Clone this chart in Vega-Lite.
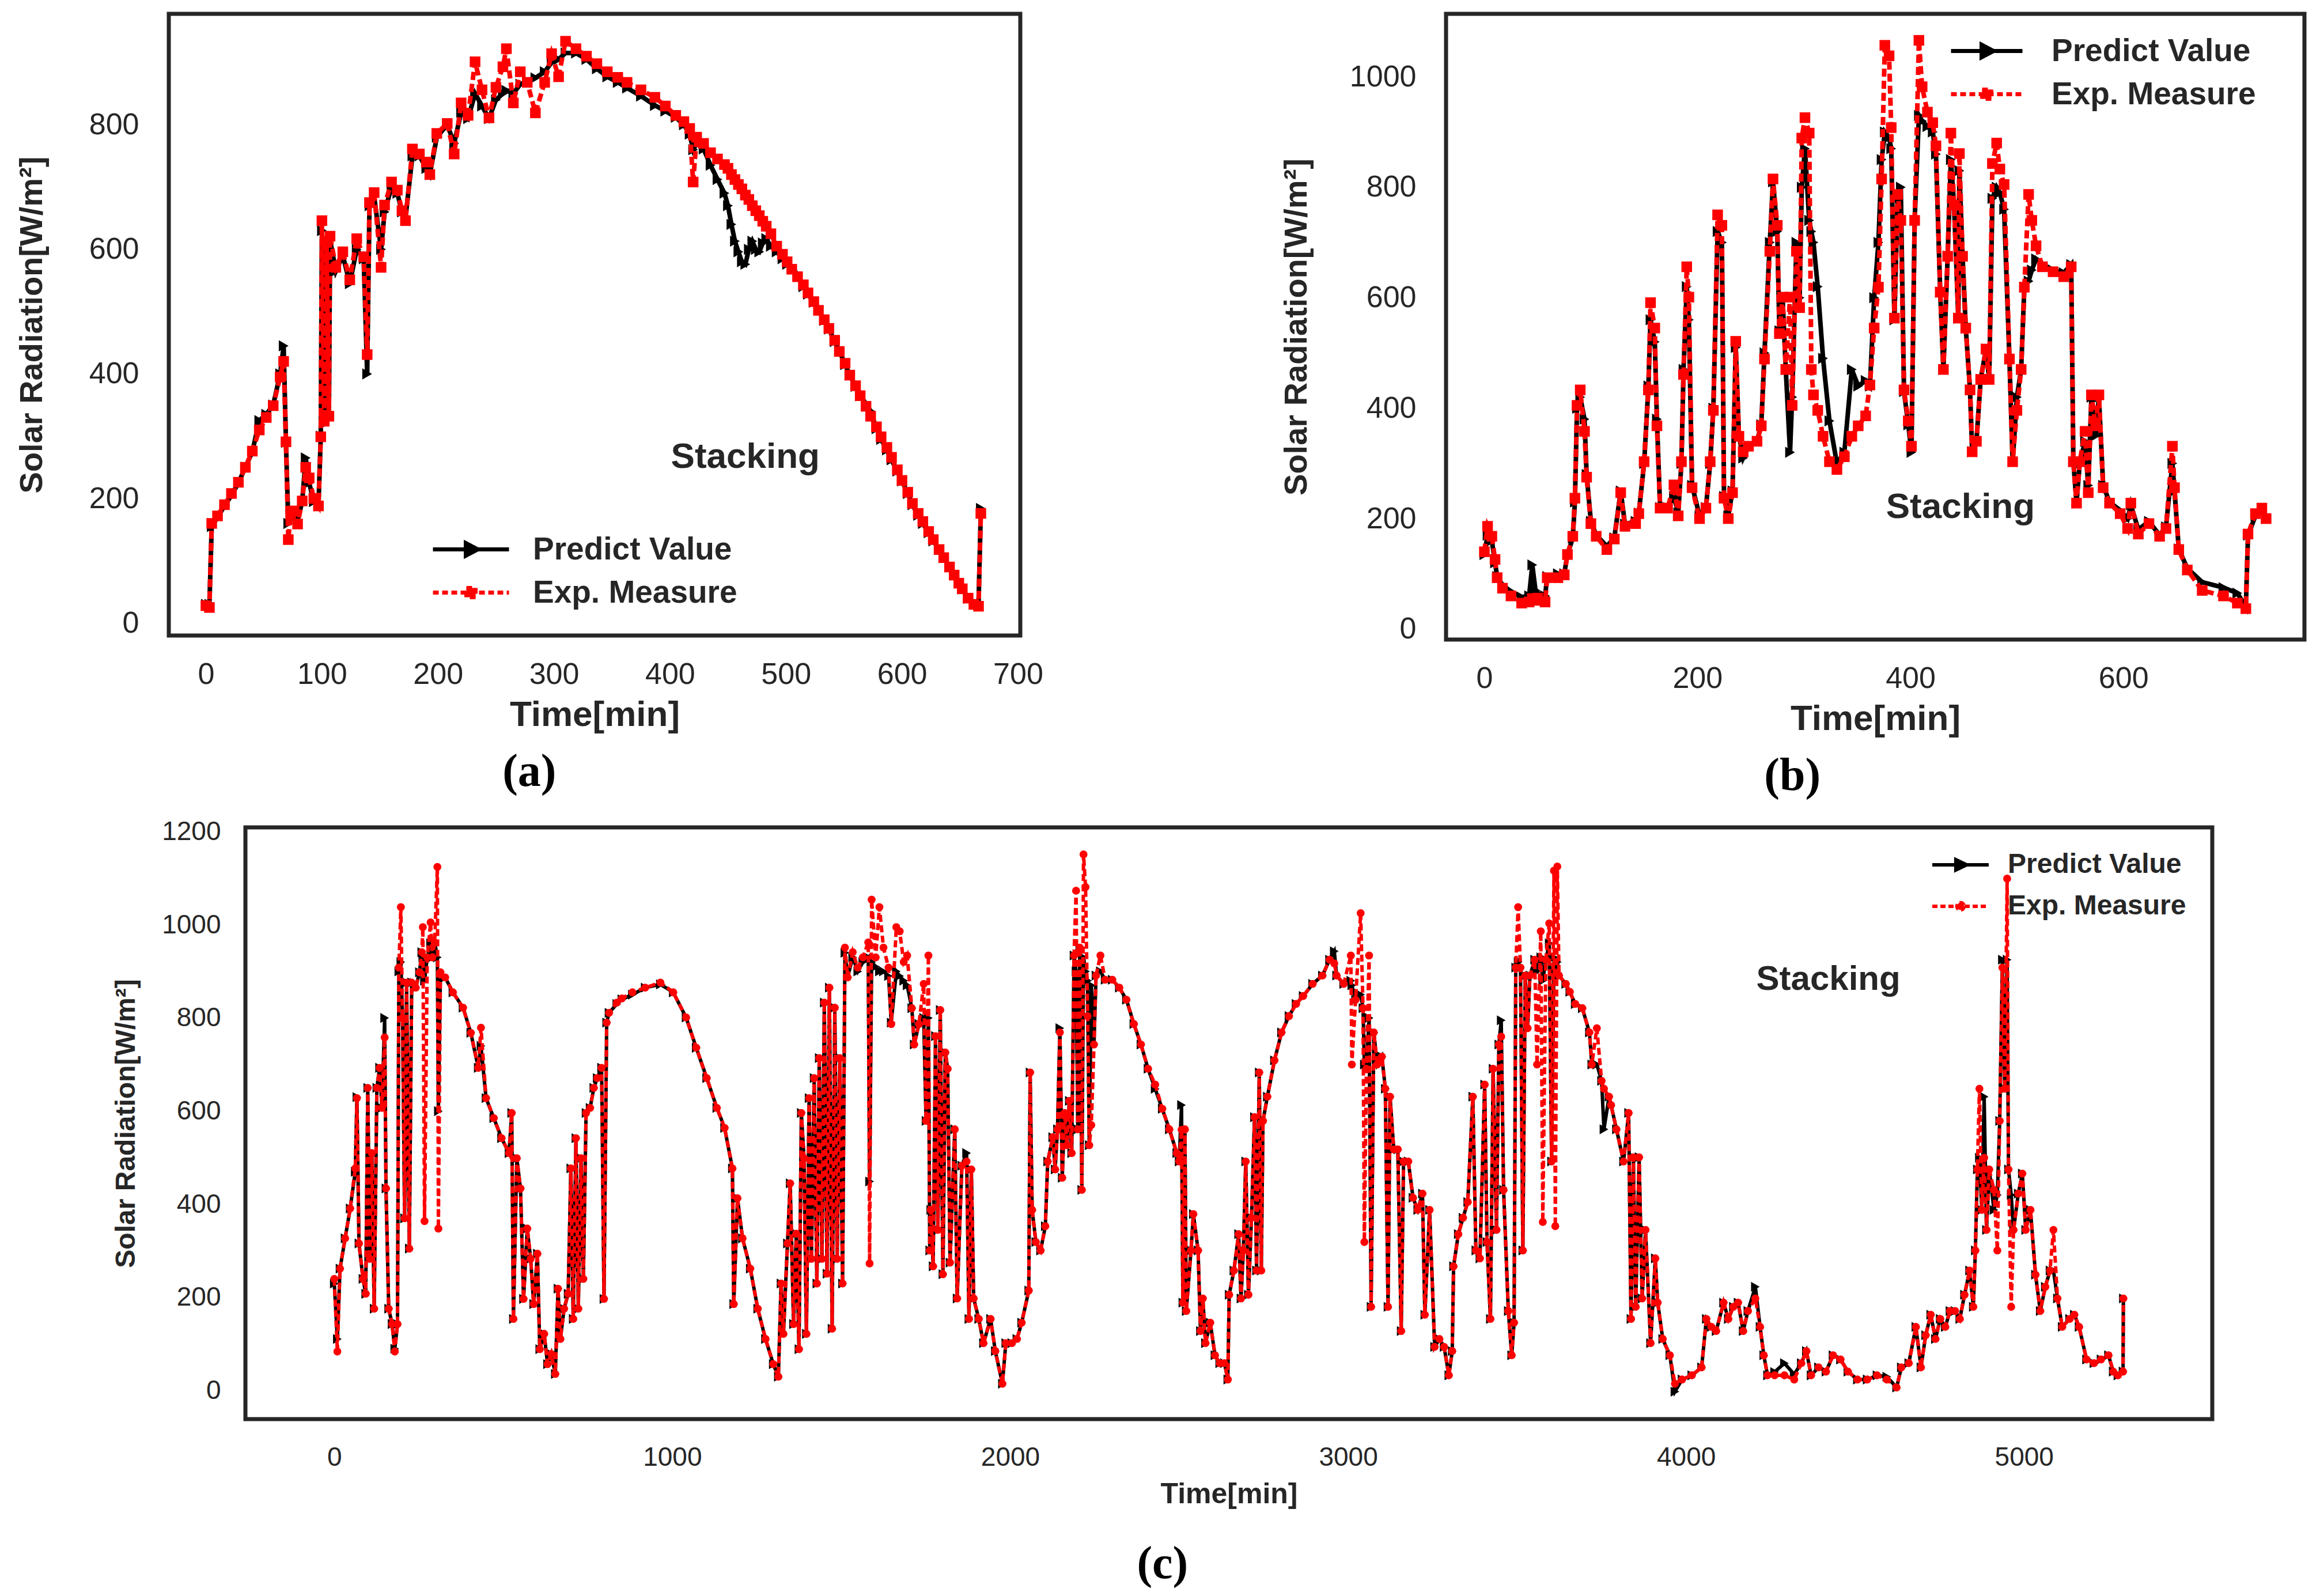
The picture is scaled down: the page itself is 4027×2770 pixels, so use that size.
{
  "$schema": "https://vega.github.io/schema/vega-lite/v6.json",
  "background": "white",
  "padding": {"left": 23, "top": 20, "right": 10, "bottom": 10},
  "config": {
    "view": {"stroke": "#262626", "strokeWidth": 7},
    "axis": {
      "grid": false, "ticks": false, "tickSize": 0, "domain": false, "labelFlush": false, "format": "d",
      "labelFont": "Liberation Sans", "titleFont": "Liberation Sans",
      "labelColor": "#262626", "titleColor": "#262626", "titleFontWeight": "bold"
    },
    "title": {"font": "Liberation Serif", "fontWeight": "bold", "color": "black"}
  },
  "datasets": {
    "a": [
      {"t":0,"p":30,"m":28},{"t":3,"p":30,"m":25},{"t":5,"p":155,"m":160},{"t":10,"p":170,"m":172},{"t":16,"p":188,"m":190},
      {"t":22,"p":205,"m":208},{"t":28,"p":225,"m":226},{"t":34,"p":250,"m":250},{"t":40,"p":275,"m":276},{"t":46,"p":325,"m":310},
      {"t":52,"p":335,"m":330},{"t":58,"p":350,"m":349},{"t":64,"p":400,"m":395},{"t":67,"p":445,"m":420},{"t":69,"p":290,"m":291},
      {"t":71,"p":160,"m":134},{"t":73,"p":176,"m":176},{"t":76,"p":170,"m":180},{"t":79,"p":165,"m":159},{"t":83,"p":195,"m":196},
      {"t":86,"p":265,"m":250},{"t":89,"p":225,"m":233},{"t":93,"p":195,"m":200},{"t":97,"p":188,"m":188},{"t":99,"p":300,"m":299},
      {"t":100,"p":630,"m":646},{"t":102,"p":320,"m":324},{"t":104,"p":610,"m":613},{"t":106,"p":330,"m":332},{"t":107,"p":615,"m":621},
      {"t":112,"p":565,"m":571},{"t":118,"p":590,"m":596},{"t":124,"p":545,"m":551},{"t":130,"p":600,"m":617},{"t":136,"p":585,"m":588},
      {"t":139,"p":400,"m":431},{"t":141,"p":670,"m":675},{"t":145,"p":685,"m":691},{"t":151,"p":600,"m":571},{"t":154,"p":660,"m":671},
      {"t":160,"p":700,"m":708},{"t":165,"p":690,"m":695},{"t":169,"p":660,"m":662},{"t":172,"p":650,"m":646},{"t":178,"p":750,"m":761},
      {"t":184,"p":750,"m":753},{"t":190,"p":730,"m":740},{"t":193,"p":720,"m":720},{"t":199,"p":780,"m":786},{"t":208,"p":800,"m":802},
      {"t":214,"p":770,"m":753},{"t":220,"p":820,"m":835},{"t":226,"p":810,"m":815},{"t":232,"p":850,"m":901},{"t":238,"p":830,"m":856},
      {"t":244,"p":810,"m":811},{"t":250,"p":840,"m":860},{"t":256,"p":850,"m":893},{"t":259,"p":855,"m":922},{"t":265,"p":850,"m":835},
      {"t":271,"p":865,"m":885},{"t":277,"p":870,"m":868},{"t":284,"p":875,"m":819},{"t":292,"p":885,"m":868},{"t":298,"p":900,"m":914},
      {"t":304,"p":905,"m":877},{"t":310,"p":915,"m":934},{"t":319,"p":915,"m":922},{"t":328,"p":905,"m":910},{"t":337,"p":890,"m":898},
      {"t":346,"p":877,"m":885},{"t":355,"p":868,"m":876},{"t":363,"p":859,"m":868},{"t":375,"p":846,"m":856},{"t":387,"p":831,"m":844},
      {"t":396,"p":822,"m":830},{"t":405,"p":812,"m":815},{"t":412,"p":800,"m":805},{"t":417,"p":785,"m":794},{"t":420,"p":760,"m":708},
      {"t":423,"p":770,"m":780},{"t":429,"p":761,"m":770},{"t":435,"p":735,"m":755},{"t":441,"p":712,"m":745},{"t":447,"p":690,"m":736},
      {"t":450,"p":670,"m":730},{"t":453,"p":640,"m":720},{"t":456,"p":613,"m":712},{"t":459,"p":596,"m":704},{"t":462,"p":580,"m":697},
      {"t":465,"p":576,"m":687},{"t":468,"p":600,"m":680},{"t":471,"p":613,"m":670},{"t":474,"p":600,"m":662},{"t":477,"p":596,"m":654},
      {"t":480,"p":610,"m":645},{"t":483,"p":617,"m":637},{"t":487,"p":605,"m":625},{"t":492,"p":596,"m":605},{"t":497,"p":585,"m":592},
      {"t":501,"p":576,"m":580},{"t":505,"p":570,"m":568},{"t":510,"p":560,"m":556},{"t":515,"p":540,"m":543},{"t":519,"p":528,"m":530},
      {"t":524,"p":515,"m":516},{"t":528,"p":503,"m":502},{"t":533,"p":486,"m":487},{"t":537,"p":472,"m":473},{"t":542,"p":452,"m":454},
      {"t":546,"p":437,"m":436},{"t":551,"p":415,"m":417},{"t":555,"p":398,"m":398},{"t":560,"p":380,"m":381},{"t":564,"p":365,"m":365},
      {"t":569,"p":352,"m":348},{"t":573,"p":340,"m":332},{"t":578,"p":312,"m":315},{"t":582,"p":295,"m":299},{"t":587,"p":278,"m":282},
      {"t":591,"p":262,"m":266},{"t":596,"p":244,"m":246},{"t":600,"p":228,"m":229},{"t":605,"p":208,"m":210},{"t":609,"p":190,"m":192},
      {"t":614,"p":173,"m":176},{"t":618,"p":160,"m":163},{"t":623,"p":145,"m":147},{"t":627,"p":132,"m":134},{"t":632,"p":118,"m":118},
      {"t":636,"p":105,"m":105},{"t":641,"p":90,"m":90},{"t":645,"p":78,"m":77},{"t":649,"p":65,"m":64},{"t":652,"p":55,"m":55},
      {"t":657,"p":40,"m":40},{"t":662,"p":32,"m":30},{"t":666,"p":30,"m":27},{"t":668,"p":184,"m":176}
    ],
    "b": [
      {"t":0,"p":135,"m":140},{"t":3,"p":170,"m":186},{"t":7,"p":160,"m":168},{"t":10,"p":120,"m":126},{"t":12,"p":95,"m":93},
      {"t":17,"p":80,"m":74},{"t":25,"p":68,"m":60},{"t":35,"p":58,"m":47},{"t":42,"p":60,"m":49},{"t":45,"p":116,"m":55},
      {"t":48,"p":70,"m":52},{"t":50,"p":65,"m":56},{"t":57,"p":60,"m":49},{"t":59,"p":95,"m":93},{"t":69,"p":100,"m":93},
      {"t":75,"p":100,"m":98},{"t":78,"p":135,"m":135},{"t":83,"p":165,"m":168},{"t":85,"p":230,"m":237},{"t":87,"p":400,"m":405},
      {"t":90,"p":420,"m":433},{"t":94,"p":380,"m":358},{"t":96,"p":280,"m":275},{"t":100,"p":195,"m":191},{"t":105,"p":170,"m":168},
      {"t":115,"p":150,"m":144},{"t":122,"p":165,"m":163},{"t":128,"p":250,"m":247},{"t":132,"p":190,"m":186},{"t":142,"p":195,"m":191},
      {"t":145,"p":210,"m":209},{"t":150,"p":300,"m":303},{"t":154,"p":440,"m":433},{"t":156,"p":560,"m":591},{"t":160,"p":520,"m":545},
      {"t":162,"p":380,"m":368},{"t":165,"p":220,"m":219},{"t":172,"p":220,"m":219},{"t":178,"p":240,"m":261},{"t":182,"p":210,"m":205},
      {"t":185,"p":300,"m":303},{"t":187,"p":470,"m":461},{"t":190,"p":620,"m":656},{"t":192,"p":560,"m":601},{"t":195,"p":260,"m":256},
      {"t":202,"p":205,"m":200},{"t":208,"p":220,"m":219},{"t":212,"p":300,"m":303},{"t":215,"p":400,"m":396},{"t":219,"p":720,"m":750},
      {"t":223,"p":700,"m":731},{"t":225,"p":240,"m":237},{"t":229,"p":205,"m":200},{"t":233,"p":250,"m":247},{"t":236,"p":510,"m":521},
      {"t":239,"p":350,"m":349},{"t":243,"p":310,"m":321},{"t":248,"p":330,"m":331},{"t":256,"p":340,"m":340},{"t":260,"p":370,"m":368},
      {"t":263,"p":500,"m":489},{"t":268,"p":700,"m":684},{"t":271,"p":810,"m":815},{"t":275,"p":720,"m":731},{"t":277,"p":540,"m":535},
      {"t":280,"p":600,"m":601},{"t":283,"p":470,"m":470},{"t":287,"p":320,"m":601},{"t":289,"p":420,"m":405},{"t":293,"p":700,"m":684},
      {"t":296,"p":600,"m":582},{"t":298,"p":800,"m":889},{"t":301,"p":870,"m":926},{"t":305,"p":740,"m":898},{"t":307,"p":720,"m":470},
      {"t":309,"p":700,"m":424},{"t":313,"p":620,"m":396},{"t":318,"p":490,"m":349},{"t":324,"p":377,"m":303},{"t":331,"p":300,"m":289},
      {"t":338,"p":320,"m":312},{"t":345,"p":470,"m":349},{"t":351,"p":440,"m":368},{"t":358,"p":450,"m":386},{"t":362,"p":440,"m":442},
      {"t":366,"p":600,"m":545},{"t":370,"p":700,"m":619},{"t":373,"p":850,"m":815},{"t":376,"p":900,"m":1057},{"t":380,"p":890,"m":1038},
      {"t":382,"p":870,"m":908},{"t":385,"p":560,"m":563},{"t":388,"p":780,"m":787},{"t":391,"p":800,"m":740},{"t":394,"p":430,"m":433},
      {"t":398,"p":370,"m":377},{"t":401,"p":320,"m":331},{"t":404,"p":740,"m":740},{"t":408,"p":930,"m":1066},{"t":411,"p":920,"m":982},
      {"t":416,"p":910,"m":936},{"t":421,"p":900,"m":917},{"t":424,"p":860,"m":875},{"t":428,"p":610,"m":610},{"t":431,"p":470,"m":470},
      {"t":435,"p":675,"m":675},{"t":438,"p":850,"m":898},{"t":441,"p":768,"m":768},{"t":445,"p":563,"m":563},{"t":446,"p":830,"m":861},
      {"t":449,"p":675,"m":675},{"t":452,"p":545,"m":545},{"t":456,"p":433,"m":433},{"t":458,"p":321,"m":321},{"t":462,"p":340,"m":340},
      {"t":466,"p":452,"m":452},{"t":471,"p":507,"m":507},{"t":474,"p":452,"m":452},{"t":477,"p":780,"m":843},{"t":481,"p":800,"m":880},
      {"t":484,"p":790,"m":833},{"t":488,"p":760,"m":805},{"t":493,"p":489,"m":489},{"t":496,"p":303,"m":303},{"t":500,"p":420,"m":396},
      {"t":504,"p":470,"m":470},{"t":507,"p":619,"m":619},{"t":511,"p":630,"m":787},{"t":514,"p":650,"m":740},{"t":518,"p":670,"m":694},
      {"t":524,"p":660,"m":656},{"t":534,"p":650,"m":647},{"t":544,"p":645,"m":638},{"t":551,"p":660,"m":656},{"t":553,"p":303,"m":303},
      {"t":556,"p":228,"m":228},{"t":559,"p":300,"m":303},{"t":564,"p":340,"m":358},{"t":567,"p":260,"m":247},{"t":570,"p":420,"m":424},
      {"t":574,"p":350,"m":368},{"t":577,"p":420,"m":424},{"t":581,"p":260,"m":256},{"t":587,"p":230,"m":228},{"t":597,"p":215,"m":209},
      {"t":604,"p":200,"m":182},{"t":607,"p":225,"m":228},{"t":614,"p":180,"m":172},{"t":624,"p":195,"m":191},{"t":634,"p":170,"m":168},
      {"t":640,"p":185,"m":182},{"t":646,"p":300,"m":331},{"t":648,"p":250,"m":256},{"t":652,"p":145,"m":144},{"t":660,"p":110,"m":107},
      {"t":674,"p":85,"m":70},{"t":694,"p":75,"m":60},{"t":707,"p":65,"m":47},{"t":715,"p":40,"m":37},{"t":717,"p":170,"m":172},
      {"t":724,"p":205,"m":209},{"t":730,"p":215,"m":219},{"t":734,"p":200,"m":200}
    ],
    "c": [
      {"t":0,"p":230,"m":240},{"t":9,"p":111,"m":84},{"t":17,"p":262,"m":262},{"t":32,"p":327,"m":327},{"t":47,"p":391,"m":391},
      {"t":62,"p":470,"m":477},{"t":67,"p":630,"m":628},{"t":73,"p":316,"m":316},{"t":85,"p":240,"m":240},{"t":93,"p":208,"m":208},
      {"t":99,"p":650,"m":650},{"t":105,"p":283,"m":283},{"t":111,"p":510,"m":510},{"t":118,"p":176,"m":176},{"t":126,"p":650,"m":650},
      {"t":134,"p":693,"m":693},{"t":141,"p":607,"m":607},{"t":149,"p":800,"m":758},{"t":153,"p":434,"m":434},{"t":161,"p":176,"m":176},
      {"t":171,"p":143,"m":143},{"t":179,"p":90,"m":84},{"t":187,"p":143,"m":143},{"t":191,"p":900,"m":908},{"t":197,"p":920,"m":1038},
      {"t":202,"p":800,"m":800},{"t":208,"p":370,"m":370},{"t":214,"p":876,"m":876},{"t":222,"p":305,"m":305},{"t":229,"p":876,"m":876},
      {"t":241,"p":865,"m":865},{"t":252,"p":898,"m":898},{"t":259,"p":941,"m":941},{"t":262,"p":930,"m":995},{"t":267,"p":880,"m":364},
      {"t":275,"p":930,"m":930},{"t":285,"p":960,"m":1005},{"t":290,"p":930,"m":930},{"t":297,"p":962,"m":962},{"t":305,"p":930,"m":1124},
      {"t":308,"p":600,"m":348},{"t":314,"p":898,"m":898},{"t":328,"p":887,"m":887},{"t":351,"p":855,"m":855},{"t":381,"p":822,"m":822},
      {"t":404,"p":768,"m":768},{"t":426,"p":693,"m":693},{"t":434,"p":740,"m":779},{"t":449,"p":628,"m":628},{"t":472,"p":585,"m":585},
      {"t":495,"p":542,"m":542},{"t":517,"p":510,"m":510},{"t":525,"p":596,"m":596},{"t":530,"p":154,"m":154},{"t":540,"p":499,"m":499},
      {"t":551,"p":434,"m":434},{"t":560,"p":197,"m":197},{"t":571,"p":348,"m":348},{"t":581,"p":283,"m":283},{"t":590,"p":186,"m":186},
      {"t":601,"p":294,"m":294},{"t":608,"p":89,"m":89},{"t":621,"p":122,"m":122},{"t":631,"p":57,"m":57},{"t":642,"p":79,"m":79},
      {"t":654,"p":36,"m":36},{"t":662,"p":219,"m":219},{"t":669,"p":111,"m":111},{"t":680,"p":176,"m":176},{"t":692,"p":208,"m":208},
      {"t":700,"p":477,"m":477},{"t":707,"p":154,"m":154},{"t":715,"p":542,"m":542},{"t":722,"p":176,"m":176},{"t":730,"p":499,"m":499},
      {"t":737,"p":240,"m":240},{"t":745,"p":596,"m":596},{"t":757,"p":607,"m":607},{"t":768,"p":650,"m":650},{"t":778,"p":671,"m":671},
      {"t":791,"p":693,"m":693},{"t":798,"p":197,"m":197},{"t":806,"p":790,"m":790},{"t":813,"p":811,"m":811},{"t":836,"p":830,"m":833},
      {"t":851,"p":840,"m":842},{"t":882,"p":850,"m":855},{"t":920,"p":865,"m":865},{"t":965,"p":872,"m":876},{"t":1003,"p":855,"m":855},
      {"t":1041,"p":801,"m":801},{"t":1071,"p":736,"m":736},{"t":1102,"p":671,"m":671},{"t":1132,"p":607,"m":607},{"t":1155,"p":564,"m":564},
      {"t":1178,"p":477,"m":477},{"t":1182,"p":186,"m":186},{"t":1193,"p":413,"m":413},{"t":1208,"p":327,"m":327},{"t":1231,"p":262,"m":262},
      {"t":1253,"p":176,"m":176},{"t":1276,"p":111,"m":111},{"t":1299,"p":57,"m":57},{"t":1314,"p":30,"m":30},{"t":1322,"p":230,"m":230},
      {"t":1329,"p":122,"m":122},{"t":1341,"p":316,"m":316},{"t":1349,"p":445,"m":445},{"t":1359,"p":143,"m":143},{"t":1367,"p":337,"m":337},
      {"t":1375,"p":89,"m":89},{"t":1382,"p":596,"m":596},{"t":1390,"p":499,"m":499},{"t":1397,"p":122,"m":122},{"t":1405,"p":628,"m":628},
      {"t":1412,"p":283,"m":283},{"t":1420,"p":671,"m":671},{"t":1428,"p":230,"m":230},{"t":1435,"p":714,"m":714},{"t":1443,"p":283,"m":283},
      {"t":1450,"p":833,"m":833},{"t":1458,"p":251,"m":251},{"t":1465,"p":865,"m":865},{"t":1473,"p":133,"m":133},{"t":1481,"p":822,"m":822},
      {"t":1488,"p":283,"m":283},{"t":1496,"p":714,"m":714},{"t":1504,"p":230,"m":230},{"t":1511,"p":940,"m":951},{"t":1519,"p":887,"m":887},
      {"t":1534,"p":930,"m":941},{"t":1549,"p":900,"m":908},{"t":1564,"p":920,"m":930},{"t":1580,"p":930,"m":962},{"t":1584,"p":449,"m":273},
      {"t":1590,"p":920,"m":1054},{"t":1602,"p":910,"m":930},{"t":1613,"p":900,"m":1038},{"t":1625,"p":900,"m":951},{"t":1640,"p":890,"m":908},
      {"t":1648,"p":790,"m":787},{"t":1663,"p":900,"m":995},{"t":1673,"p":890,"m":986},{"t":1685,"p":880,"m":920},{"t":1695,"p":870,"m":934},
      {"t":1709,"p":821,"m":821},{"t":1716,"p":743,"m":743},{"t":1730,"p":787,"m":787},{"t":1744,"p":800,"m":873},{"t":1751,"p":579,"m":579},
      {"t":1758,"p":800,"m":934},{"t":1762,"p":301,"m":301},{"t":1765,"p":388,"m":388},{"t":1772,"p":267,"m":267},{"t":1779,"p":761,"m":761},
      {"t":1786,"p":345,"m":345},{"t":1793,"p":817,"m":817},{"t":1801,"p":250,"m":250},{"t":1808,"p":726,"m":726},{"t":1815,"p":691,"m":691},
      {"t":1822,"p":275,"m":275},{"t":1836,"p":561,"m":561},{"t":1843,"p":198,"m":198},{"t":1857,"p":483,"m":483},{"t":1871,"p":510,"m":492},
      {"t":1878,"p":154,"m":154},{"t":1885,"p":475,"m":475},{"t":1892,"p":198,"m":198},{"t":1907,"p":154,"m":154},{"t":1921,"p":102,"m":102},
      {"t":1942,"p":154,"m":154},{"t":1956,"p":85,"m":85},{"t":1977,"p":15,"m":15},{"t":1987,"p":102,"m":102},{"t":2005,"p":102,"m":102},
      {"t":2020,"p":111,"m":111},{"t":2034,"p":146,"m":146},{"t":2055,"p":215,"m":215},{"t":2059,"p":683,"m":683},{"t":2065,"p":388,"m":388},
      {"t":2076,"p":319,"m":319},{"t":2090,"p":301,"m":301},{"t":2104,"p":353,"m":353},{"t":2111,"p":492,"m":492},{"t":2126,"p":544,"m":544},
      {"t":2133,"p":475,"m":475},{"t":2140,"p":561,"m":561},{"t":2147,"p":778,"m":769},{"t":2154,"p":457,"m":457},{"t":2161,"p":596,"m":596},
      {"t":2168,"p":527,"m":527},{"t":2175,"p":622,"m":622},{"t":2182,"p":510,"m":510},{"t":2189,"p":934,"m":934},{"t":2195,"p":900,"m":1073},
      {"t":2200,"p":561,"m":561},{"t":2206,"p":951,"m":951},{"t":2212,"p":431,"m":431},{"t":2217,"p":930,"m":1151},{"t":2223,"p":900,"m":1081},
      {"t":2229,"p":880,"m":804},{"t":2234,"p":527,"m":527},{"t":2240,"p":870,"m":570},{"t":2248,"p":743,"m":743},{"t":2254,"p":891,"m":891},
      {"t":2267,"p":900,"m":934},{"t":2281,"p":882,"m":882},{"t":2302,"p":882,"m":882},{"t":2323,"p":865,"m":865},{"t":2344,"p":839,"m":839},
      {"t":2366,"p":787,"m":787},{"t":2387,"p":743,"m":743},{"t":2408,"p":691,"m":691},{"t":2429,"p":648,"m":657},{"t":2450,"p":605,"m":605},
      {"t":2471,"p":561,"m":561},{"t":2493,"p":510,"m":510},{"t":2500,"p":492,"m":492},{"t":2507,"p":613,"m":560},{"t":2511,"p":189,"m":189},
      {"t":2517,"p":561,"m":561},{"t":2521,"p":171,"m":171},{"t":2535,"p":301,"m":301},{"t":2542,"p":379,"m":379},{"t":2556,"p":301,"m":301},
      {"t":2563,"p":128,"m":128},{"t":2570,"p":198,"m":198},{"t":2578,"p":102,"m":102},{"t":2592,"p":146,"m":146},{"t":2606,"p":76,"m":76},
      {"t":2620,"p":59,"m":59},{"t":2634,"p":59,"m":59},{"t":2644,"p":24,"m":24},{"t":2648,"p":206,"m":206},{"t":2662,"p":258,"m":258},
      {"t":2676,"p":336,"m":336},{"t":2683,"p":198,"m":198},{"t":2690,"p":301,"m":301},{"t":2697,"p":492,"m":492},{"t":2705,"p":206,"m":206},
      {"t":2714,"p":371,"m":371},{"t":2723,"p":587,"m":587},{"t":2729,"p":258,"m":258},{"t":2737,"p":683,"m":683},{"t":2743,"p":258,"m":258},
      {"t":2748,"p":579,"m":579},{"t":2761,"p":631,"m":631},{"t":2782,"p":709,"m":709},{"t":2803,"p":769,"m":769},{"t":2825,"p":804,"m":804},
      {"t":2846,"p":830,"m":830},{"t":2867,"p":847,"m":847},{"t":2895,"p":873,"m":873},{"t":2924,"p":891,"m":891},{"t":2945,"p":925,"m":925},
      {"t":2959,"p":943,"m":917},{"t":2966,"p":891,"m":891},{"t":2987,"p":873,"m":873},{"t":3008,"p":880,"m":934},{"t":3011,"p":870,"m":700},
      {"t":3022,"p":839,"m":839},{"t":3037,"p":850,"m":1025},{"t":3044,"p":821,"m":821},{"t":3048,"p":700,"m":319},{"t":3054,"p":691,"m":691},
      {"t":3062,"p":800,"m":934},{"t":3068,"p":180,"m":180},{"t":3076,"p":769,"m":769},{"t":3086,"p":700,"m":700},{"t":3100,"p":717,"m":717},
      {"t":3110,"p":648,"m":648},{"t":3118,"p":180,"m":180},{"t":3124,"p":631,"m":631},{"t":3135,"p":518,"m":518},{"t":3147,"p":518,"m":518},
      {"t":3157,"p":128,"m":128},{"t":3164,"p":492,"m":492},{"t":3178,"p":492,"m":492},{"t":3192,"p":414,"m":414},{"t":3206,"p":388,"m":388},
      {"t":3220,"p":423,"m":423},{"t":3227,"p":163,"m":163},{"t":3241,"p":388,"m":388},{"t":3256,"p":94,"m":94},{"t":3270,"p":111,"m":111},
      {"t":3284,"p":94,"m":94},{"t":3298,"p":33,"m":33},{"t":3308,"p":85,"m":85},{"t":3312,"p":267,"m":267},{"t":3326,"p":336,"m":336},
      {"t":3340,"p":371,"m":371},{"t":3354,"p":405,"m":405},{"t":3369,"p":631,"m":631},{"t":3378,"p":301,"m":301},{"t":3390,"p":284,"m":284},
      {"t":3404,"p":657,"m":657},{"t":3411,"p":319,"m":319},{"t":3421,"p":154,"m":154},{"t":3429,"p":691,"m":691},{"t":3439,"p":345,"m":345},
      {"t":3446,"p":743,"m":743},{"t":3453,"p":795,"m":760},{"t":3460,"p":431,"m":431},{"t":3474,"p":171,"m":171},{"t":3484,"p":76,"m":76},
      {"t":3491,"p":146,"m":146},{"t":3496,"p":908,"m":908},{"t":3503,"p":920,"m":1038},{"t":3510,"p":908,"m":908},{"t":3517,"p":301,"m":301},
      {"t":3524,"p":891,"m":891},{"t":3531,"p":778,"m":778},{"t":3538,"p":891,"m":891},{"t":3552,"p":925,"m":925},{"t":3559,"p":900,"m":700},
      {"t":3570,"p":930,"m":986},{"t":3576,"p":880,"m":362},{"t":3585,"p":925,"m":925},{"t":3595,"p":960,"m":1003},{"t":3602,"p":492,"m":492},
      {"t":3609,"p":930,"m":1116},{"t":3613,"p":900,"m":353},{"t":3619,"p":920,"m":1125},{"t":3624,"p":891,"m":891},{"t":3644,"p":873,"m":873},
      {"t":3656,"p":856,"m":856},{"t":3672,"p":830,"m":830},{"t":3693,"p":821,"m":821},{"t":3714,"p":769,"m":769},{"t":3721,"p":700,"m":700},
      {"t":3736,"p":700,"m":778},{"t":3750,"p":665,"m":665},{"t":3757,"p":561,"m":648},{"t":3772,"p":631,"m":631},{"t":3778,"p":613,"m":613},
      {"t":3794,"p":561,"m":561},{"t":3815,"p":492,"m":492},{"t":3830,"p":596,"m":596},{"t":3837,"p":154,"m":154},{"t":3844,"p":501,"m":501},
      {"t":3851,"p":180,"m":180},{"t":3861,"p":501,"m":501},{"t":3870,"p":198,"m":198},{"t":3880,"p":345,"m":345},{"t":3895,"p":102,"m":102},
      {"t":3909,"p":284,"m":284},{"t":3916,"p":189,"m":189},{"t":3931,"p":111,"m":111},{"t":3952,"p":76,"m":76},{"t":3967,"p":-2,"m":15},
      {"t":3988,"p":24,"m":24},{"t":4017,"p":33,"m":33},{"t":4046,"p":50,"m":50},{"t":4060,"p":154,"m":154},{"t":4075,"p":137,"m":137},
      {"t":4089,"p":128,"m":128},{"t":4111,"p":189,"m":189},{"t":4125,"p":154,"m":154},{"t":4140,"p":180,"m":180},{"t":4154,"p":189,"m":189},
      {"t":4169,"p":128,"m":128},{"t":4183,"p":171,"m":171},{"t":4205,"p":223,"m":198},{"t":4219,"p":137,"m":137},{"t":4230,"p":76,"m":76},
      {"t":4241,"p":33,"m":33},{"t":4262,"p":40,"m":33},{"t":4291,"p":59,"m":33},{"t":4320,"p":35,"m":24},{"t":4341,"p":59,"m":59},
      {"t":4356,"p":85,"m":85},{"t":4370,"p":33,"m":33},{"t":4392,"p":50,"m":50},{"t":4414,"p":41,"m":41},{"t":4435,"p":76,"m":76},
      {"t":4457,"p":67,"m":67},{"t":4479,"p":41,"m":41},{"t":4507,"p":24,"m":24},{"t":4536,"p":24,"m":24},{"t":4565,"p":33,"m":33},
      {"t":4594,"p":30,"m":24},{"t":4623,"p":7,"m":7},{"t":4637,"p":50,"m":50},{"t":4659,"p":59,"m":59},{"t":4680,"p":137,"m":137},
      {"t":4695,"p":50,"m":50},{"t":4709,"p":119,"m":119},{"t":4724,"p":163,"m":163},{"t":4738,"p":111,"m":111},{"t":4752,"p":154,"m":154},
      {"t":4767,"p":137,"m":137},{"t":4781,"p":171,"m":171},{"t":4796,"p":171,"m":171},{"t":4810,"p":154,"m":154},{"t":4824,"p":206,"m":206},
      {"t":4839,"p":258,"m":258},{"t":4850,"p":180,"m":180},{"t":4856,"p":301,"m":301},{"t":4862,"p":475,"m":475},{"t":4868,"p":500,"m":648},
      {"t":4875,"p":388,"m":388},{"t":4882,"p":631,"m":500},{"t":4889,"p":345,"m":345},{"t":4897,"p":475,"m":475},{"t":4911,"p":388,"m":431},
      {"t":4921,"p":420,"m":301},{"t":4928,"p":579,"m":579},{"t":4936,"p":925,"m":908},{"t":4943,"p":648,"m":648},{"t":4950,"p":925,"m":1099},
      {"t":4954,"p":475,"m":475},{"t":4962,"p":420,"m":180},{"t":4969,"p":345,"m":345},{"t":4983,"p":423,"m":423},{"t":4995,"p":466,"m":466},
      {"t":5005,"p":345,"m":345},{"t":5019,"p":388,"m":388},{"t":5034,"p":249,"m":249},{"t":5048,"p":171,"m":171},{"t":5063,"p":223,"m":223},
      {"t":5077,"p":258,"m":258},{"t":5087,"p":258,"m":345},{"t":5099,"p":198,"m":198},{"t":5113,"p":137,"m":137},{"t":5135,"p":154,"m":154},
      {"t":5149,"p":163,"m":163},{"t":5163,"p":137,"m":137},{"t":5185,"p":67,"m":67},{"t":5207,"p":59,"m":59},{"t":5228,"p":67,"m":67},
      {"t":5250,"p":76,"m":76},{"t":5264,"p":41,"m":41},{"t":5278,"p":33,"m":33},{"t":5293,"p":41,"m":41},{"t":5294,"p":198,"m":198}
    ]
  },
  "spacing": 25,
  "resolve": {"scale": {"color": "independent"}, "legend": {"color": "independent"}},
  "vconcat": [
    {
      "bounds": "flush",
      "spacing": 739,
      "resolve": {"scale": {"color": "independent"}, "legend": {"color": "independent"}},
      "hconcat": [
        {
          "width": 1478,
          "height": 1079,
          "data": {"name": "a"},
          "title": {"text": "(a)", "orient": "bottom", "anchor": "middle", "frame": "bounds", "offset": 30, "fontSize": 80},
          "layer": [
            {
              "mark": {"type": "line", "strokeWidth": 8, "clip": true, "point": {"shape": "triangle-right", "filled": true, "size": 380}},
              "encoding": {
                "x": {"field": "t", "type": "quantitative", "scale": {"domain": [-32, 702], "nice": false, "zero": false},
                      "axis": {"title": "Time[min]", "values": [0, 100, 200, 300, 400, 500, 600, 700], "labelFontSize": 52, "titleFontSize": 62, "labelPadding": 42, "titlePadding": 14}},
                "y": {"field": "p", "type": "quantitative", "scale": {"domain": [-20, 978], "nice": false, "zero": false},
                      "axis": {"title": "Solar Radiation[W/m²]", "values": [0, 200, 400, 600, 800], "labelFontSize": 52, "titleFontSize": 56, "labelPadding": 52, "titlePadding": 70}},
                "color": {
                  "datum": "Predict Value",
                  "scale": {"domain": ["Predict Value", "Exp. Measure"], "range": ["black", "red"]},
                  "legend": {
                    "orient": "none", "legendX": 497, "legendY": 902, "title": null, "padding": 0,
                    "symbolSize": 1600, "symbolStrokeWidth": 7, "labelOffset": 80, "rowPadding": 19,
                    "labelFont": "Liberation Sans", "labelFontWeight": "bold", "labelFontSize": 55, "labelColor": "#262626", "labelLimit": 0,
                    "encode": {"symbols": {"update": {
                      "shape": {"signal": "datum.value === 'Predict Value' ? 'M-3.3,0H3.3M-0.45,-0.55L0.6,0L-0.45,0.55Z' : 'M-3.3,0H3.3M-0.4,-0.4H0.4V0.4H-0.4Z'"},
                      "fill": {"signal": "datum.value === 'Predict Value' ? 'black' : 'red'"},
                      "stroke": {"signal": "datum.value === 'Predict Value' ? 'black' : 'red'"},
                      "strokeDash": {"signal": "datum.value === 'Predict Value' ? [1, 0] : [10, 6]"},
                      "opacity": {"value": 1}
                    }}}
                  }
                }
              }
            },
            {
              "mark": {"type": "line", "strokeWidth": 8, "strokeDash": [14, 7], "clip": true, "point": {"shape": "square", "filled": true, "size": 340}},
              "encoding": {
                "x": {"field": "t", "type": "quantitative", "scale": {"domain": [-32, 702], "nice": false, "zero": false}},
                "y": {"field": "m", "type": "quantitative", "scale": {"domain": [-20, 978], "nice": false, "zero": false}},
                "color": {"datum": "Exp. Measure"}
              }
            },
            {
              "data": {"values": [{}]},
              "mark": {"type": "text", "text": "Stacking", "font": "Liberation Sans", "fontWeight": "bold", "fontSize": 62, "color": "#262626"},
              "encoding": {"x": {"datum": 465, "type": "quantitative"}, "y": {"datum": 267, "type": "quantitative"}}
            }
          ]
        },
        {
          "width": 1490,
          "height": 1086,
          "data": {"name": "b"},
          "title": {"text": "(b)", "orient": "bottom", "anchor": "middle", "frame": "bounds", "offset": 30, "fontSize": 80},
          "layer": [
            {
              "mark": {"type": "line", "strokeWidth": 8, "clip": true, "point": {"shape": "triangle-right", "filled": true, "size": 380}},
              "encoding": {
                "x": {"field": "t", "type": "quantitative", "scale": {"domain": [-36, 770], "nice": false, "zero": false},
                      "axis": {"title": "Time[min]", "values": [0, 200, 400, 600], "labelFontSize": 52, "titleFontSize": 62, "labelPadding": 42, "titlePadding": 14}},
                "y": {"field": "p", "type": "quantitative", "scale": {"domain": [-19, 1114], "nice": false, "zero": false},
                      "axis": {"title": "Solar Radiation[W/m²]", "values": [0, 200, 400, 600, 800, 1000], "labelFontSize": 52, "titleFontSize": 56, "labelPadding": 52, "titlePadding": 63}},
                "color": {
                  "datum": "Predict Value",
                  "scale": {"domain": ["Predict Value", "Exp. Measure"], "range": ["black", "red"]},
                  "legend": {
                    "orient": "none", "legendX": 911, "legendY": 37, "title": null, "padding": 0,
                    "symbolSize": 1600, "symbolStrokeWidth": 7, "labelOffset": 85, "rowPadding": 19,
                    "labelFont": "Liberation Sans", "labelFontWeight": "bold", "labelFontSize": 55, "labelColor": "#262626", "labelLimit": 0,
                    "encode": {"symbols": {"update": {
                      "shape": {"signal": "datum.value === 'Predict Value' ? 'M-3.1,0H3.1M-0.45,-0.55L0.6,0L-0.45,0.55Z' : 'M-3.1,0H3.1M-0.4,-0.4H0.4V0.4H-0.4Z'"},
                      "fill": {"signal": "datum.value === 'Predict Value' ? 'black' : 'red'"},
                      "stroke": {"signal": "datum.value === 'Predict Value' ? 'black' : 'red'"},
                      "strokeDash": {"signal": "datum.value === 'Predict Value' ? [1, 0] : [10, 6]"},
                      "opacity": {"value": 1}
                    }}}
                  }
                }
              }
            },
            {
              "mark": {"type": "line", "strokeWidth": 8, "strokeDash": [14, 7], "clip": true, "point": {"shape": "square", "filled": true, "size": 340}},
              "encoding": {
                "x": {"field": "t", "type": "quantitative", "scale": {"domain": [-36, 770], "nice": false, "zero": false}},
                "y": {"field": "m", "type": "quantitative", "scale": {"domain": [-19, 1114], "nice": false, "zero": false}},
                "color": {"datum": "Exp. Measure"}
              }
            },
            {
              "data": {"values": [{}]},
              "mark": {"type": "text", "text": "Stacking", "font": "Liberation Sans", "fontWeight": "bold", "fontSize": 62, "color": "#262626"},
              "encoding": {"x": {"datum": 447, "type": "quantitative"}, "y": {"datum": 221, "type": "quantitative"}}
            }
          ]
        }
      ]
    },
    {
      "bounds": "flush",
      "spacing": 132,
      "resolve": {"scale": {"color": "independent"}, "legend": {"color": "independent"}},
      "hconcat": [
        {
          "width": 1,
          "height": 1,
          "view": {"stroke": null},
          "data": {"values": []},
          "mark": "point"
        },
        {
          "width": 3414,
          "height": 1027,
          "data": {"name": "c"},
          "title": {"text": "(c)", "orient": "bottom", "anchor": "middle", "frame": "bounds", "offset": 58, "fontSize": 80},
          "layer": [
            {
              "mark": {"type": "line", "strokeWidth": 6, "clip": true, "point": {"shape": "triangle-right", "filled": true, "size": 300}},
              "encoding": {
                "x": {"field": "t", "type": "quantitative", "scale": {"domain": [-263, 5557], "nice": false, "zero": false},
                      "axis": {"title": "Time[min]", "values": [0, 1000, 2000, 3000, 4000, 5000], "labelFontSize": 46, "titleFontSize": 50, "labelPadding": 44, "titlePadding": 16}},
                "y": {"field": "p", "type": "quantitative", "scale": {"domain": [-61, 1209], "nice": false, "zero": false},
                      "axis": {"title": "Solar Radiation[W/m²]", "values": [0, 200, 400, 600, 800, 1000, 1200], "labelFontSize": 46, "titleFontSize": 48, "labelPadding": 43, "titlePadding": 37}},
                "color": {
                  "datum": "Predict Value",
                  "scale": {"domain": ["Predict Value", "Exp. Measure"], "range": ["black", "red"]},
                  "legend": {
                    "orient": "none", "legendX": 2953, "legendY": 41, "title": null, "padding": 0,
                    "symbolSize": 1296, "symbolStrokeWidth": 6, "labelOffset": 58, "rowPadding": 24,
                    "labelFont": "Liberation Sans", "labelFontWeight": "bold", "labelFontSize": 48, "labelColor": "#262626", "labelLimit": 0,
                    "encode": {"symbols": {"update": {
                      "shape": {"signal": "datum.value === 'Predict Value' ? 'M-2.72,0H2.72M-0.45,-0.5L0.6,0L-0.45,0.5Z' : 'M-2.72,0H2.72M0.35,0A0.35,0.35,0,1,1,-0.35,0A0.35,0.35,0,1,1,0.35,0Z'"},
                      "fill": {"signal": "datum.value === 'Predict Value' ? 'black' : 'red'"},
                      "stroke": {"signal": "datum.value === 'Predict Value' ? 'black' : 'red'"},
                      "strokeDash": {"signal": "datum.value === 'Predict Value' ? [1, 0] : [9, 5]"},
                      "opacity": {"value": 1}
                    }}}
                  }
                }
              }
            },
            {
              "mark": {"type": "line", "strokeWidth": 6, "strokeDash": [12, 6], "clip": true, "point": {"shape": "circle", "filled": true, "size": 190}},
              "encoding": {
                "x": {"field": "t", "type": "quantitative", "scale": {"domain": [-263, 5557], "nice": false, "zero": false}},
                "y": {"field": "m", "type": "quantitative", "scale": {"domain": [-61, 1209], "nice": false, "zero": false}},
                "color": {"datum": "Exp. Measure"}
              }
            },
            {
              "data": {"values": [{}]},
              "mark": {"type": "text", "text": "Stacking", "font": "Liberation Sans", "fontWeight": "bold", "fontSize": 60, "color": "#262626"},
              "encoding": {"x": {"datum": 4421, "type": "quantitative"}, "y": {"datum": 883, "type": "quantitative"}}
            }
          ]
        }
      ]
    }
  ]
}
